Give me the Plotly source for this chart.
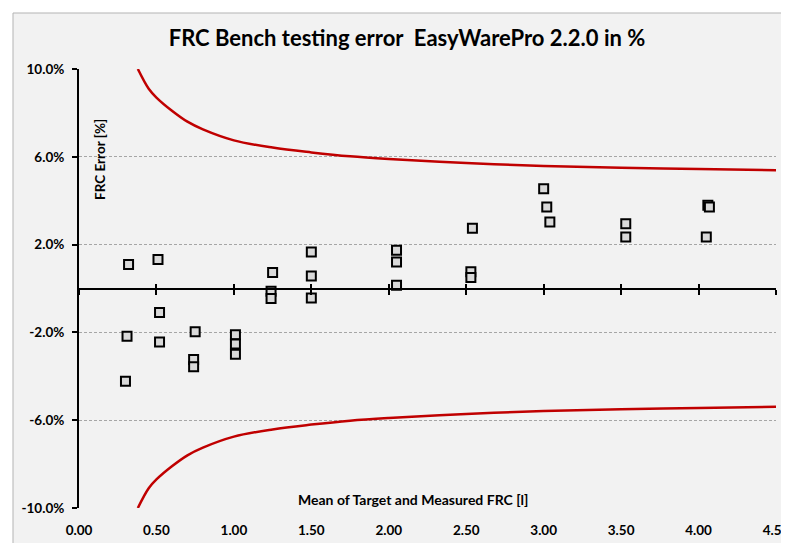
import plotly.graph_objects as go

# Measured points: mean of target & measured FRC [l] vs error [%]
frc_mean = [0.30, 0.31, 0.32, 0.51, 0.52, 0.52, 0.75, 0.74, 0.74, 1.01, 1.01, 1.01,
            1.25, 1.24, 1.24, 1.50, 1.50, 1.50, 2.05, 2.05, 2.05, 2.54, 2.53, 2.53,
            3.00, 3.02, 3.04, 3.53, 3.53, 4.06, 4.07, 4.05]
frc_error = [-4.23, -2.17, 1.09, 1.32, -1.09, -2.44, -1.97, -3.23, -3.56, -2.11, -2.53, -2.99,
             0.73, -0.13, -0.45, 1.66, 0.57, -0.43, 1.74, 1.21, 0.15, 2.75, 0.76, 0.50,
             4.55, 3.71, 3.03, 2.95, 2.35, 3.79, 3.71, 2.35]

# Tolerance limits
limit_x = [0.38, 0.45, 0.50, 0.60, 0.70, 0.80, 1.00, 1.25, 1.50, 1.75, 2.00, 2.50, 3.00, 3.50, 4.00, 4.50]
limit_upper = [10.0, 9.1, 8.7, 8.1, 7.6, 7.25, 6.75, 6.42, 6.2, 6.02, 5.9, 5.72, 5.58, 5.5, 5.44, 5.39]
limit_lower = [-10.0, -9.1, -8.7, -8.1, -7.6, -7.25, -6.75, -6.42, -6.2, -6.02, -5.9, -5.72, -5.58, -5.5, -5.44, -5.39]

y_tickvals = [-10, -6, -2, 2, 6, 10]
y_ticktext = ["-10.0%", "-6.0%", "-2.0%", "2.0%", "6.0%", "10.0%"]
x_tickvals = [0, 0.5, 1, 1.5, 2, 2.5, 3, 3.5, 4, 4.5]
x_ticktext = ["0.00", "0.50", "1.00", "1.50", "2.00", "2.50", "3.00", "3.50", "4.00", "4.50"]

FONT = "Lato"
RED = "#c00000"

# page body adds an 8px offset; figure is sized/placed to compensate
W, H = 781, 535
L, T, R, B = 71, 61, 13, 35

fig = go.Figure()
fig.add_trace(go.Scatter(x=limit_x, y=limit_upper, mode="lines", line=dict(color=RED, width=2.5, shape="spline"),
                         hoverinfo="skip", showlegend=False))
fig.add_trace(go.Scatter(x=limit_x, y=limit_lower, mode="lines", line=dict(color=RED, width=2.5, shape="spline"),
                         hoverinfo="skip", showlegend=False))
# zero-line axes carriers
fig.add_trace(go.Scatter(x=[], y=[], xaxis="x2", showlegend=False))
fig.add_trace(go.Scatter(x=[], y=[], xaxis="x3", showlegend=False))
fig.add_trace(go.Scatter(x=frc_mean, y=frc_error, mode="markers",
                         marker=dict(symbol="square", size=9, color="#d9d9d9",
                                     line=dict(color="black", width=2)),
                         showlegend=False))

pw = W - L - R
ph = H - T - B

fig.update_layout(
    width=W, height=H,
    margin=dict(l=L, r=R, t=T, b=B, autoexpand=False),
    paper_bgcolor="white",
    plot_bgcolor="rgba(0,0,0,0)",
    font=dict(family=FONT, color="black"),
    title=dict(text="<b>FRC Bench testing error  EasyWarePro 2.2.0 in %</b>",
               x=399 / W, xref="container", xanchor="center",
               y=1 - 30 / H, yref="container", yanchor="middle", automargin=False,
               font=dict(family=FONT, size=22, color="black")),
    xaxis=dict(range=[0, 4.5], tickvals=x_tickvals, ticktext=x_ticktext, showgrid=False,
               zeroline=False, showline=False, ticks="", ticklabelstandoff=12, automargin=False,
               ticklabeloverflow="allow",
               tickfont=dict(family=FONT, size=13.5, color="black", weight="bold")),
    xaxis2=dict(range=[0, 4.5], overlaying="x", anchor="free", position=0.5, side="bottom",
                tickvals=x_tickvals, showticklabels=False, ticks="outside", ticklen=5, tickwidth=2,
                tickcolor="black", showline=True, linecolor="black", linewidth=2,
                showgrid=False, zeroline=False, automargin=False),
    xaxis3=dict(range=[0, 4.5], overlaying="x", anchor="free", position=0.5, side="bottom",
                tickvals=x_tickvals, showticklabels=False, ticks="inside", ticklen=5, tickwidth=2,
                tickcolor="black", showline=False, showgrid=False, zeroline=False, automargin=False),
    yaxis=dict(range=[-10, 10], tickvals=y_tickvals, ticktext=y_ticktext, automargin=False,
               showgrid=True, gridcolor="#a6a6a6", gridwidth=1, griddash="3px,2px",
               zeroline=False, showline=True, linecolor="black", linewidth=2,
               ticks="outside", ticklen=5, tickwidth=2, tickcolor="black", ticklabelstandoff=5,
               ticklabeloverflow="allow",
               tickfont=dict(family=FONT, size=13.5, color="black", weight="bold")),
    shapes=[dict(type="rect", xref="paper", yref="paper",
                 x0=(5 - L) / pw, x1=1.1, y0=-0.3, y1=(T + ph - 5) / ph,
                 line=dict(color="#b3b3b3", width=1), fillcolor="#f2f2f2", layer="below")],
    annotations=[
        dict(text="<b>FRC Error [%]</b>", xref="paper", yref="paper",
             x=(92 - L) / pw, y=(T + ph - 152) / ph, textangle=-90, showarrow=False,
             xanchor="center", yanchor="middle", font=dict(family=FONT, size=13.5, color="black")),
        dict(text="<b>Mean of Target and Measured FRC [l]</b>", xref="paper", yref="paper",
             x=(405 - L) / pw, y=(T + ph - 491) / ph, showarrow=False,
             xanchor="center", yanchor="middle", font=dict(family=FONT, size=14, color="black")),
    ],
)

fig.write_html("out.html")
